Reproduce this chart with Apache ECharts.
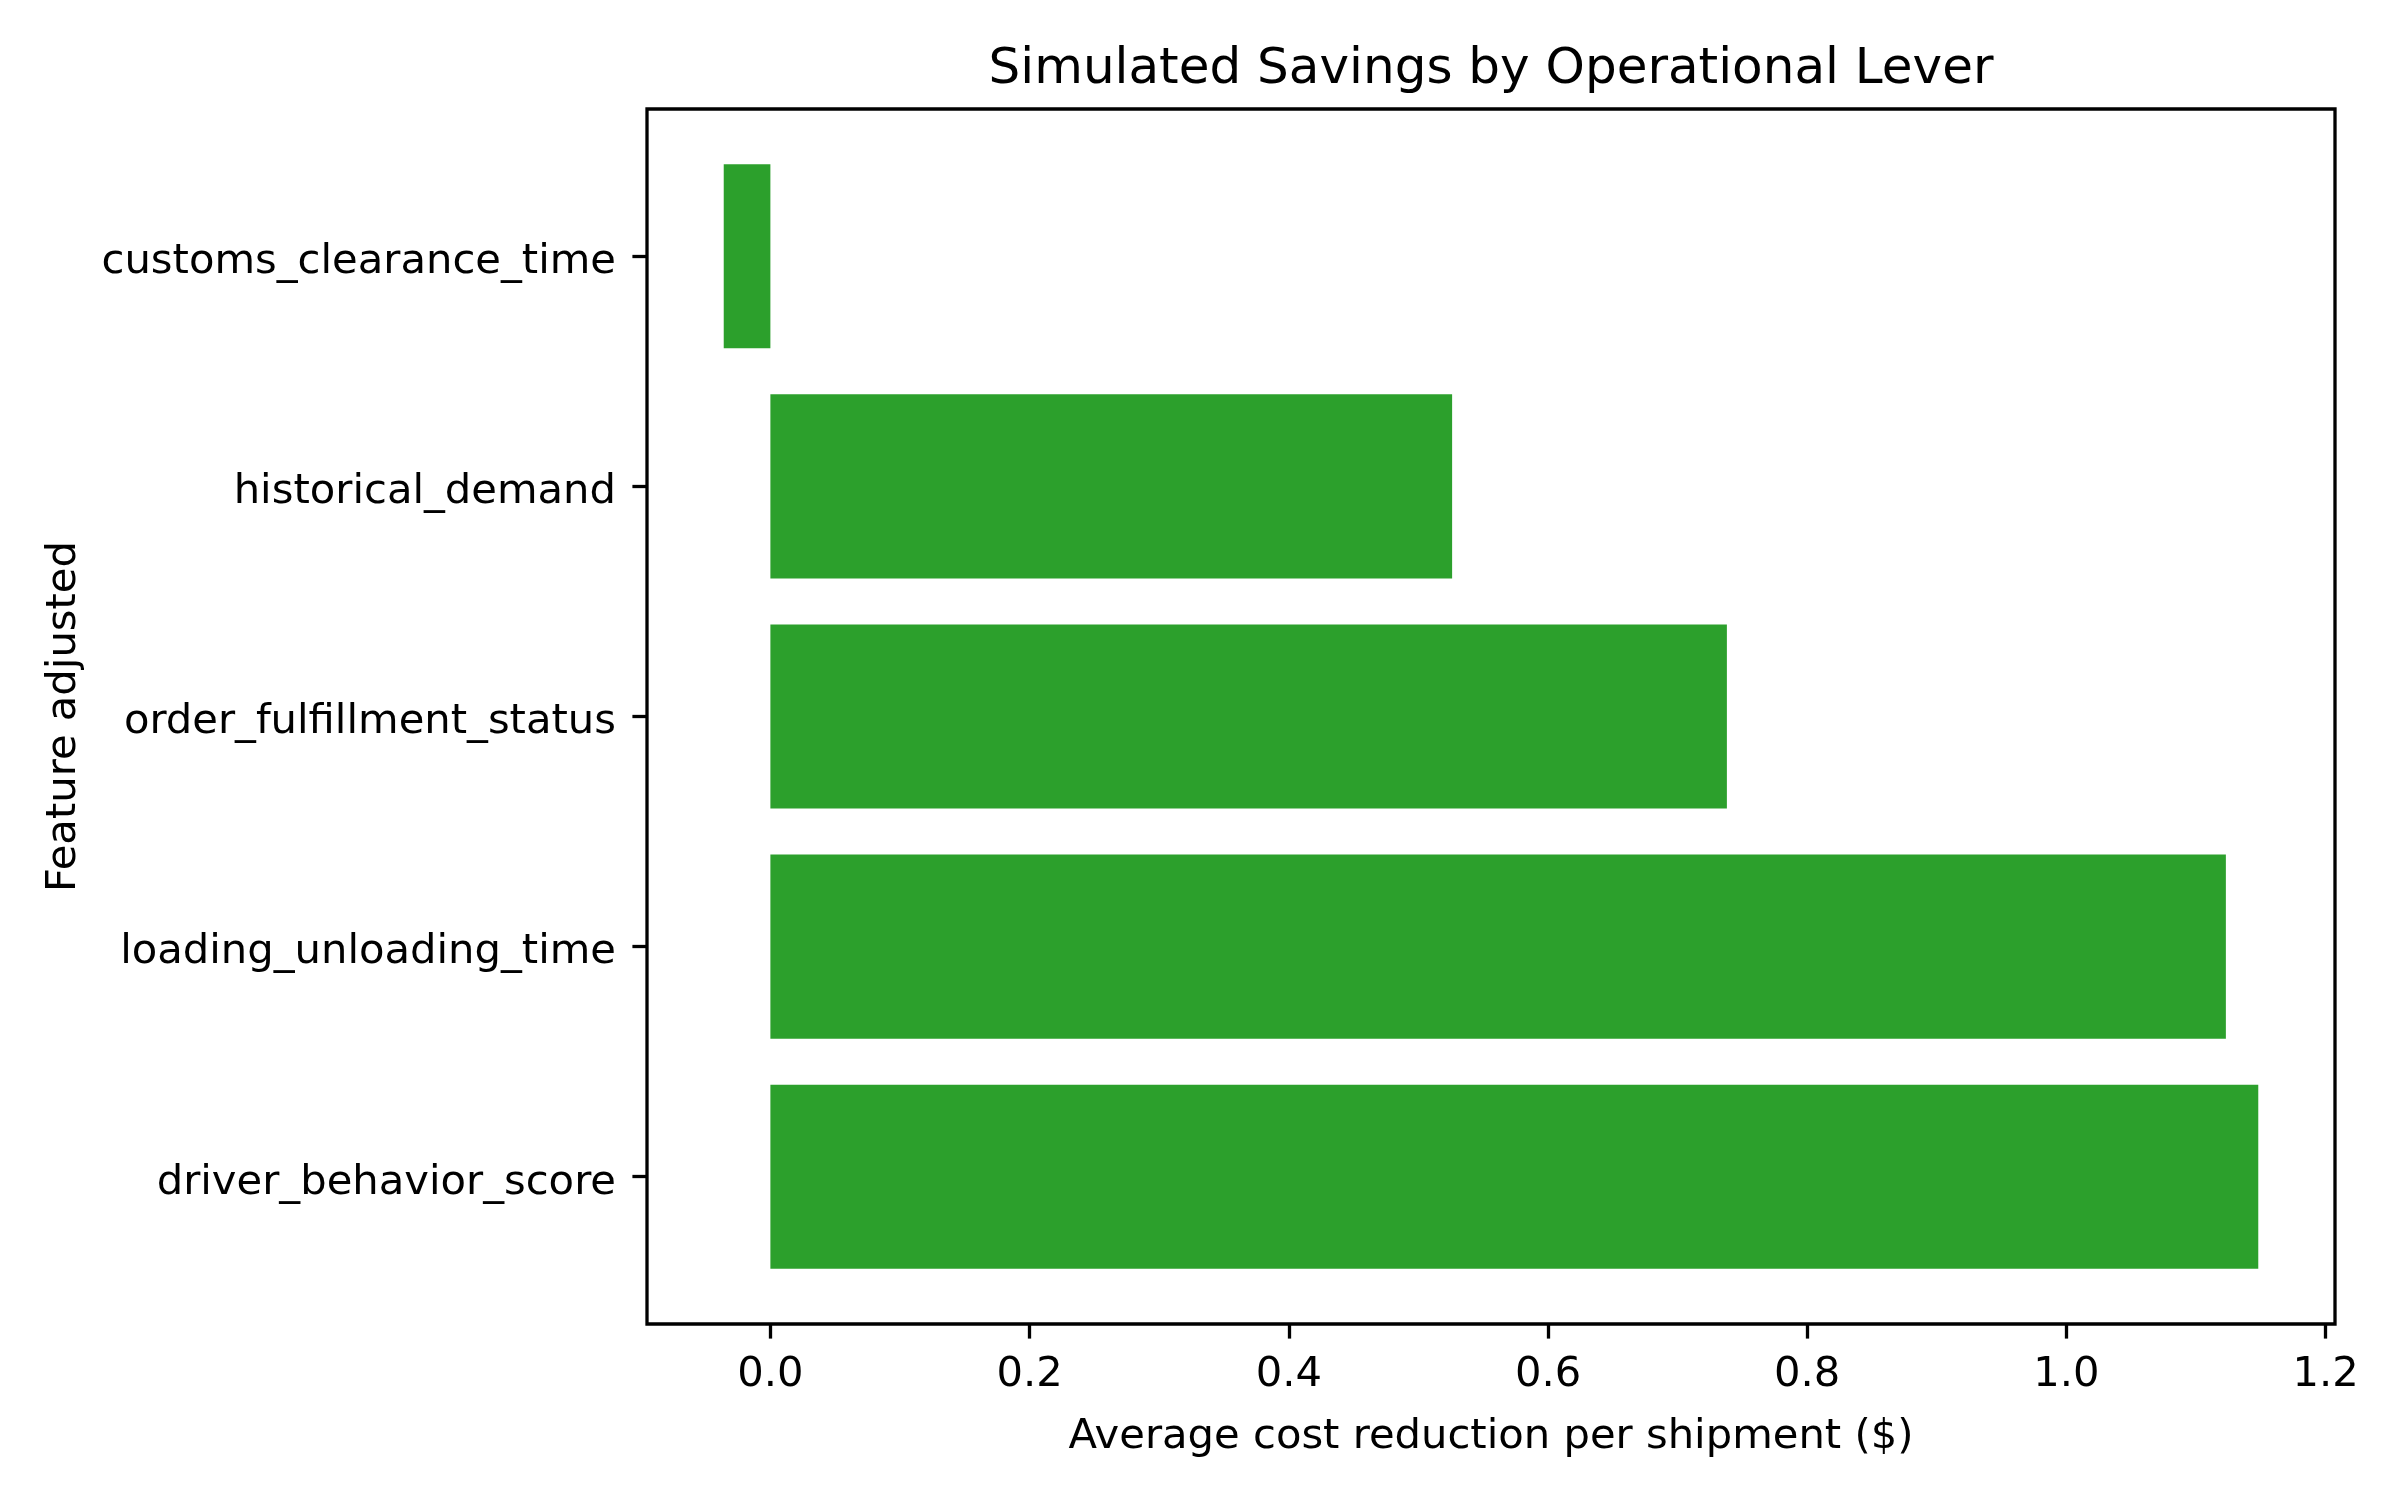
<!DOCTYPE html>
<html>
<head>
<meta charset="utf-8">
<script src="https://cdn.jsdelivr.net/npm/echarts@6/dist/echarts.min.js"></script>
<style>
  html, body { margin: 0; padding: 0; background: #fff; }
  #chart { width: 2400px; height: 1500px; }
</style>
</head>
<body>
<div id="chart"></div>
<script>
// bottom to top, as in the source plot
const features = [
    "driver_behavior_score",
    "loading_unloading_time",
    "order_fulfillment_status",
    "historical_demand",
    "customs_clearance_time"
];
const savings = [1.148, 1.123, 0.738, 0.526, -0.036];
const xTicks = [0, 0.2, 0.4, 0.6, 0.8, 1.0, 1.2];

const FONT = "DejaVu Sans";
const GREEN = "#2ca02c";
const FS = 41.7;

// matplotlib-style 5% padding around the data range
const lo = Math.min(0, ...savings);
const hi = Math.max(0, ...savings);
const pad = (hi - lo) * 0.05;
const xMin = lo - pad;
const xMax = hi + pad;

// frame box in pixels
const frame = { left: 647, right: 65, top: 109, bottom: 176 };
// categories span 5 units of 5.28 (0.14 unit margin each end)
const frameH = 1500 - frame.top - frame.bottom;
const inset = frameH * 0.14 / 5.28;

const chart = echarts.init(document.getElementById("chart"), null, { renderer: "canvas" });

chart.setOption({
    animation: false,
    backgroundColor: "#fff",
    textStyle: { fontFamily: FONT },
    title: {
        text: "Simulated Savings by Operational Lever",
        left: (frame.left + 2400 - frame.right) / 2 - 5,
        top: 40,
        textAlign: "center",
        textStyle: { fontFamily: FONT, fontSize: 50, fontWeight: "normal", color: "#000" }
    },
    grid: [
        {
            left: frame.left, right: frame.right, top: frame.top, bottom: frame.bottom,
            show: true, borderColor: "#000", borderWidth: 3.3, backgroundColor: "transparent"
        },
        {
            left: frame.left, right: frame.right,
            top: frame.top + inset, bottom: frame.bottom + inset
        }
    ],
    xAxis: [
        {
            type: "value",
            gridIndex: 0,
            min: xMin,
            max: xMax,
            name: "Average cost reduction per shipment ($)",
            nameLocation: "middle",
            nameGap: 92,
            nameTextStyle: { fontFamily: FONT, fontSize: FS, color: "#000" },
            axisLine: { show: false },
            splitLine: { show: false },
            axisTick: {
                show: true,
                customValues: xTicks,
                length: 14.6,
                lineStyle: { color: "#000", width: 3.3 }
            },
            axisLabel: {
                show: true,
                customValues: xTicks,
                formatter: (v) => v.toFixed(1),
                margin: 30,
                fontFamily: FONT,
                fontSize: FS,
                color: "#000"
            }
        },
        {
            type: "value",
            gridIndex: 1,
            min: xMin,
            max: xMax,
            show: false
        }
    ],
    yAxis: [
        {
            type: "value",
            gridIndex: 0,
            min: 0,
            max: 1,
            name: "Feature adjusted",
            nameLocation: "middle",
            nameGap: 562,
            nameTextStyle: { fontFamily: FONT, fontSize: FS, color: "#000" },
            axisLine: { show: false },
            axisTick: { show: false },
            axisLabel: { show: false },
            splitLine: { show: false }
        },
        {
            type: "category",
            gridIndex: 1,
            data: features,
            axisLine: { show: false, onZero: false },
            axisTick: {
                show: true,
                alignWithLabel: true,
                length: 14.6,
                lineStyle: { color: "#000", width: 3.3 }
            },
            axisLabel: {
                margin: 31,
                verticalAlign: "top",
                lineHeight: 12,
                fontFamily: FONT,
                fontSize: FS,
                color: "#000"
            },
            splitLine: { show: false }
        }
    ],
    series: [
        {
            type: "bar",
            xAxisIndex: 1,
            yAxisIndex: 1,
            data: savings,
            barWidth: "80%",
            itemStyle: { color: GREEN }
        }
    ]
});
</script>
</body>
</html>
